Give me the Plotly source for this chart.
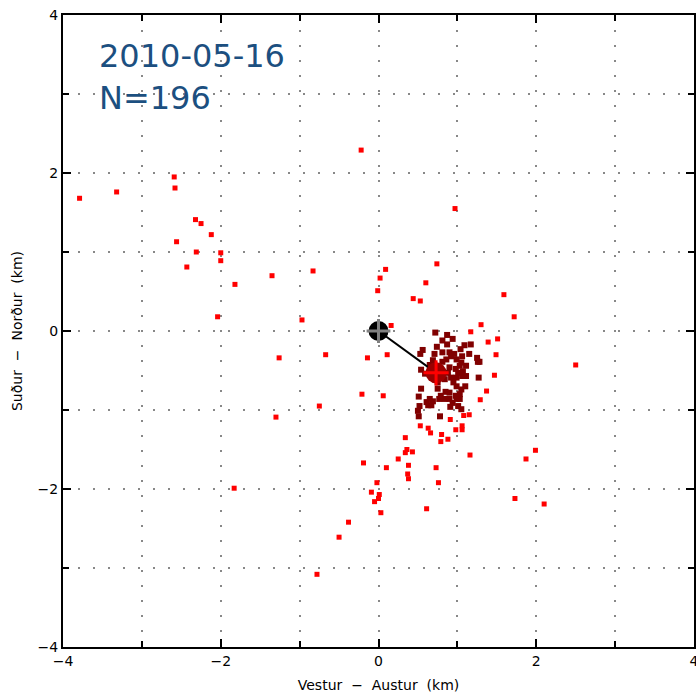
import plotly.graph_objects as go

# Scattered (red) events, km east / north of origin
red_x = [-3.79, -3.32, -2.59, -2.58, -2.32, -2.25, -2.12, -2.56, -2.31, -2.00, -2.00, -2.43, -1.82, -1.35, -0.83, -2.04, -0.97,
         -0.22, 0.97, 0.09, 0.02, -0.01, 0.74, 0.60, 0.44, 0.53, 1.59, 1.72, 1.30, 1.17, 1.51, 1.39, 0.16,
         -1.26, -0.67, -0.75, -1.30, -1.83, -0.38, -0.50, -0.78,
         -0.14, 0.11, -0.21, 0.06, 2.50, 1.49, 1.47, 1.37, 1.29, 1.15, 1.08, 0.53, 0.63, 0.66, 0.80, 0.79, 0.88, 0.91,
         0.98, 1.06, 1.06, 0.34, 0.36, 0.34, 0.43, 0.25, 0.38, 0.37, 0.38, 0.10, -0.19, 0.73, 0.76, 1.16, 1.99, 1.87,
         1.73, 2.10, 0.61, -0.02, -0.09, 0.01, 0.00, -0.05, 0.03]
red_y = [1.68, 1.76, 1.95, 1.81, 1.41, 1.36, 1.22, 1.13, 1.00, 0.99, 0.89, 0.81, 0.59, 0.70, 0.76, 0.18, 0.14,
         2.29, 1.55, 0.78, 0.67, 0.51, 0.85, 0.61, 0.41, 0.38, 0.46, 0.18, 0.08, -0.01, -0.10, -0.14, 0.07,
         -0.34, -0.30, -0.95, -1.09, -1.99, -2.42, -2.61, -3.08,
         -0.34, -0.30, -0.80, -0.82, -0.43, -0.30, -0.56, -0.76, -0.87, -1.06, -1.07, -1.20, -1.23, -1.29, -1.31, -1.40, -1.37, -1.12,
         -1.25, -1.20, -1.25, -1.35, -1.50, -1.54, -1.53, -1.62, -1.70, -1.81, -1.87, -1.73, -1.67, -1.73, -1.92, -1.57, -1.51, -1.62,
         -2.12, -2.19, -2.25, -1.92, -2.04, -2.07, -2.12, -2.16, -2.30]

# Clustered (dark red) events
dark_x = [0.72, 0.87, 0.94, 0.81, 0.74, 0.87, 0.56, 0.53, 0.71, 0.81, 0.90, 0.96, 1.09, 1.17, 1.04, 1.15, 1.25, 1.26,
          1.06, 0.99, 0.92, 0.86, 0.81, 0.69, 0.65, 0.54, 0.59, 0.75, 0.84, 0.92, 0.99, 1.06, 1.11, 1.03, 0.98, 0.90,
          1.01, 0.95, 0.99, 1.05, 1.10, 1.03, 0.98, 1.03, 1.01, 1.05, 0.90, 0.85, 0.79, 0.75, 0.54, 0.51, 0.65, 0.61,
          0.69, 0.77, 0.84, 0.90, 0.52, 0.50, 0.51, 0.63, 0.67, 0.78, 0.91, 0.94, 0.99, 1.27, 1.28, 0.72, 1.05, 1.11,
          1.07, 0.88, 0.79]
dark_y = [-0.02, -0.05, -0.10, -0.12, -0.20, -0.17, -0.24, -0.29, -0.29, -0.27, -0.27, -0.29, -0.18, -0.17, -0.23, -0.29, -0.34, -0.39,
          -0.32, -0.36, -0.32, -0.36, -0.39, -0.37, -0.43, -0.49, -0.54, -0.65, -0.61, -0.59, -0.59, -0.57, -0.57, -0.44, -0.48, -0.46,
          -0.53, -0.65, -0.70, -0.74, -0.70, -0.80, -0.82, -0.86, -0.95, -0.99, -0.78, -0.77, -0.82, -0.73, -0.73, -0.83, -0.86, -0.90,
          -0.89, -0.86, -0.86, -0.86, -0.95, -1.01, -1.08, -0.94, -0.94, -1.08, -0.96, -0.91, -0.86, -0.59, -0.39, -0.46, -0.40, -0.44,
          -0.51, -0.53, -0.51]

# Reference point and cluster centroid
origin = (0.0, 0.0)
centroid = (0.73, -0.53)

title_lines = ["2010-05-16", "N=196"]
ticks = [-4, -2, 0, 2, 4]

fig = go.Figure()
fig.add_trace(go.Scatter(x=red_x, y=red_y, mode="markers",
                         marker=dict(symbol="square", size=5, color="#ff0000", line=dict(width=0))))
fig.add_trace(go.Scatter(x=dark_x, y=dark_y, mode="markers",
                         marker=dict(symbol="square", size=6, color="#800000", line=dict(width=0))))
fig.add_trace(go.Scatter(x=[origin[0], centroid[0]], y=[origin[1], centroid[1]], mode="lines",
                         line=dict(color="black", width=2)))
fig.add_trace(go.Scatter(x=[origin[0]], y=[origin[1]], mode="markers",
                         marker=dict(symbol="circle", size=20, color="black", line=dict(width=0))))
fig.add_trace(go.Scatter(x=[origin[0]], y=[origin[1]], mode="markers",
                         marker=dict(symbol="cross-thin", size=17, line=dict(color="#808080", width=3))))
fig.add_trace(go.Scatter(x=[centroid[0]], y=[centroid[1]], mode="markers",
                         marker=dict(symbol="circle", size=21, color="#9a0000", line=dict(width=0))))
fig.add_trace(go.Scatter(x=[centroid[0]], y=[centroid[1]], mode="markers",
                         marker=dict(symbol="cross-thin", size=18, line=dict(color="#ff0000", width=3))))

axis_common = dict(
    range=[-4, 4], tickvals=ticks, ticktext=[str(t).replace("-", "\u2212") for t in ticks],
    ticks="inside", ticklen=8, tickwidth=2, tickcolor="black",
    showline=True, linecolor="black", linewidth=2, mirror="ticks",
    showgrid=True, gridcolor="#888888", gridwidth=2, griddash="2px,13px",
    zeroline=False, tickfont=dict(family="DejaVu Sans", size=14, color="black"),
    minor=dict(dtick=1, tick0=-4, ticks="inside", ticklen=6, tickwidth=2, tickcolor="black",
               showgrid=True, gridcolor="#888888", gridwidth=2, griddash="2px,13px"),
    fixedrange=True, automargin=False, ticklabeloverflow="allow",
)

fig.update_layout(
    width=696, height=697,
    margin=dict(l=63, r=2, t=15, b=50),
    paper_bgcolor="white", plot_bgcolor="white",
    showlegend=False,
    xaxis=dict(**axis_common, title=dict(text="Vestur  \u2212  Austur  (km)", standoff=12,
                                         font=dict(family="DejaVu Sans", size=14, color="black"))),
    yaxis=dict(**axis_common, title=dict(text="Suður  \u2212  Norður  (km)", standoff=12,
                                         font=dict(family="DejaVu Sans", size=14, color="black"))),
    annotations=[dict(text="<br>".join(title_lines), xref="paper", yref="paper",
                      x=0.054, y=0.968, xanchor="left", yanchor="top", align="left", showarrow=False,
                      font=dict(family="DejaVu Sans", size=32, color="#1c4f80"))],
)

fig.write_html("out.html", config={"displayModeBar": False},
               post_script="document.body.style.margin='0';document.body.style.overflow='hidden';")
